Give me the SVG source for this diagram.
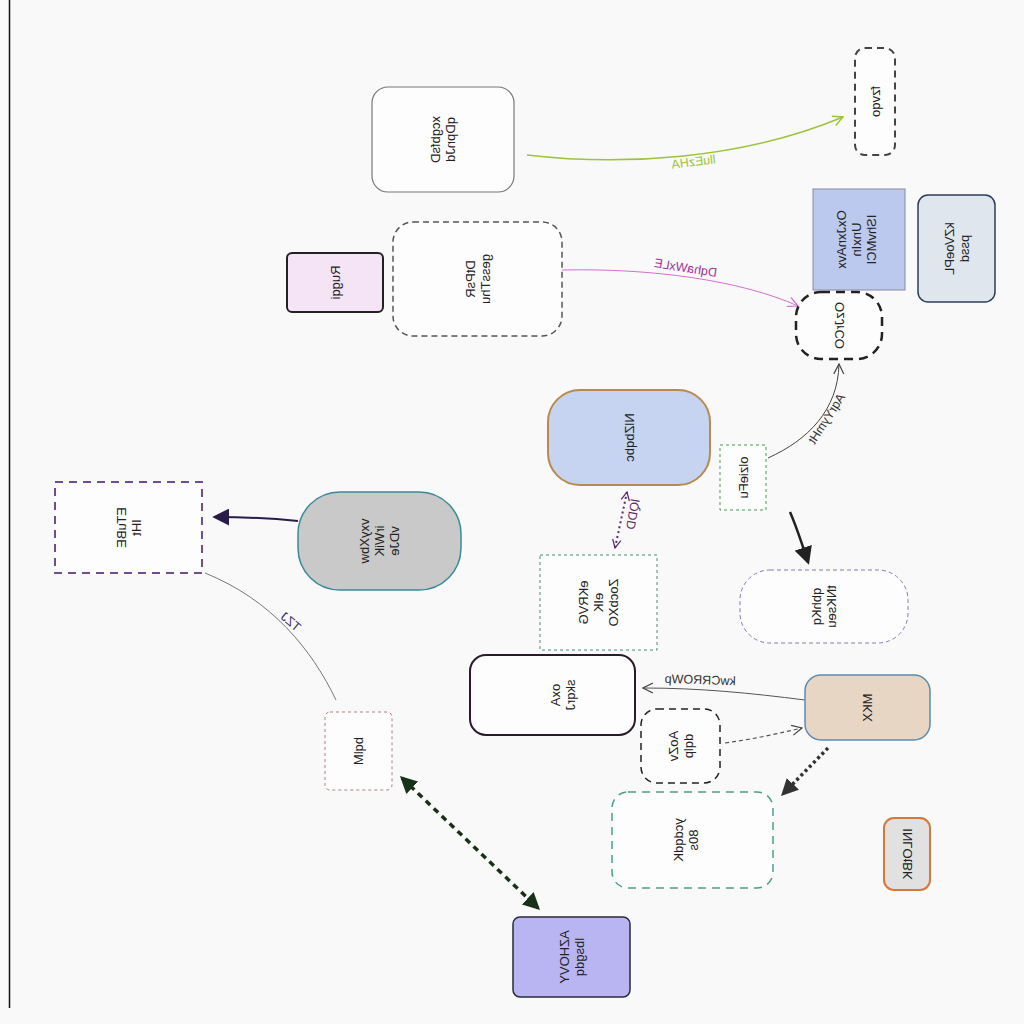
<svg xmlns="http://www.w3.org/2000/svg" width="1024" height="1024" viewBox="0 0 1024 1024">
<defs>
<style>
.nt{font-family:"Liberation Sans",Arial,sans-serif;font-size:13px;fill:#222;text-anchor:middle}
.el{font-family:"Liberation Sans",Arial,sans-serif;font-size:12.5px;text-anchor:middle}
.e{fill:none}
</style>
<marker id="oGreen" viewBox="0 0 12 12" refX="11" refY="6" markerWidth="12" markerHeight="12" markerUnits="userSpaceOnUse" orient="auto"><path d="M1,1 L11,6 L1,11" fill="none" stroke="#9cc43a" stroke-width="1.5"/></marker>
<marker id="oMag" viewBox="0 0 12 12" refX="11" refY="6" markerWidth="12" markerHeight="12" markerUnits="userSpaceOnUse" orient="auto"><path d="M1,1 L11,6 L1,11" fill="none" stroke="#d46fd0" stroke-width="1.2"/></marker>
<marker id="oGray" viewBox="0 0 12 12" refX="11" refY="6" markerWidth="12" markerHeight="12" markerUnits="userSpaceOnUse" orient="auto"><path d="M1,1 L11,6 L1,11" fill="none" stroke="#444" stroke-width="1.2"/></marker>
<marker id="oPur" viewBox="0 0 12 12" refX="11" refY="6" markerWidth="10" markerHeight="10" markerUnits="userSpaceOnUse" orient="auto-start-reverse"><path d="M1,1 L11,6 L1,11" fill="none" stroke="#5a2a6a" stroke-width="1.5"/></marker>
<marker id="fBlack" viewBox="0 0 12 12" refX="10" refY="6" markerWidth="18" markerHeight="18" markerUnits="userSpaceOnUse" orient="auto"><path d="M0,0 L12,6 L0,12 z" fill="#222"/></marker>
<marker id="fNavy" viewBox="0 0 12 12" refX="10" refY="6" markerWidth="17" markerHeight="17" markerUnits="userSpaceOnUse" orient="auto"><path d="M0,0 L12,6 L0,12 z" fill="#2b1b4b"/></marker>
<marker id="fDark" viewBox="0 0 12 12" refX="10" refY="6" markerWidth="17" markerHeight="17" markerUnits="userSpaceOnUse" orient="auto"><path d="M0,0 L12,6 L0,12 z" fill="#333"/></marker>
<marker id="fGreen" viewBox="0 0 12 12" refX="10" refY="6" markerWidth="17" markerHeight="17" markerUnits="userSpaceOnUse" orient="auto-start-reverse"><path d="M0,0 L12,6 L0,12 z" fill="#173217"/></marker>
</defs>
<rect x="0" y="0" width="1024" height="1024" fill="#f9f9f9"/>
<line x1="9.5" y1="0" x2="9.5" y2="1008" stroke="#111" stroke-width="1.5"/>

<g id="connectors">
<g id="e-a"><path class="e" d="M527,155 C620,166 740,160 843,117" stroke="#9cc43a" stroke-width="1.5" marker-end="url(#oGreen)"/>
<text class="el" fill="#9cc43a" transform="translate(694,166) rotate(-7) scale(-1,1)">lluEzHA</text></g>
<g id="e-b"><path class="e" d="M562,270 C650,268 740,280 798,306" stroke="#d46fd0" stroke-width="1" marker-end="url(#oMag)"/>
<text class="el" fill="#a0309a" transform="translate(685,272) rotate(9) scale(-1,1)">DqhaWxLE</text></g>
<g id="e-c"><path class="e" d="M768,458 C808,440 838,410 839,364" stroke="#444" stroke-width="1" marker-end="url(#oGray)"/>
<text class="el" fill="#333" transform="translate(830,421) rotate(-57) scale(-1,1)">AqrYymHt</text></g>
<g id="e-d"><path class="e" d="M790,512 C797,528 802,544 808,562" stroke="#222" stroke-width="2.5" marker-end="url(#fBlack)"/></g>
<g id="e-e"><path class="e" d="M627,492 L615,548" stroke="#5a2a6a" stroke-width="2" stroke-dasharray="2,3" marker-start="url(#oPur)" marker-end="url(#oPur)"/>
<text class="el" fill="#5a2a6a" transform="translate(637,515) rotate(-80) scale(-1,1)">lQDD</text></g>
<g id="e-f"><path class="e" d="M298,521 C270,518 250,517 215,517" stroke="#2b1b4b" stroke-width="2" marker-end="url(#fNavy)"/></g>
<g id="e-g"><path class="e" d="M336,700 C312,650 272,600 205,573" stroke="#777" stroke-width="1"/>
<text class="el" fill="#3a2a6a" transform="translate(288,625) rotate(40) scale(-1,1)">TZJ</text></g>
<g id="e-h"><path class="e" d="M805,700 C750,693 700,688 643,688" stroke="#555" stroke-width="1" marker-end="url(#oGray)"/>
<text class="el" fill="#333" transform="translate(700,684) rotate(2) scale(-1,1)">kwCRROWp</text></g>
<g id="e-i"><path class="e" d="M725,743 C760,738 780,733 802,728" stroke="#555" stroke-width="1.2" stroke-dasharray="4,3" marker-end="url(#oGray)"/></g>
<g id="e-j"><path class="e" d="M828,748 L783,794" stroke="#333" stroke-width="3.5" stroke-dasharray="3,3" marker-end="url(#fDark)"/></g>
<g id="e-k"><path class="e" d="M402,778 L538,908" stroke="#173217" stroke-width="3.5" stroke-dasharray="6,5" marker-start="url(#fGreen)" marker-end="url(#fGreen)"/></g>
</g>

<g id="n1"><rect x="372" y="87" width="142" height="105" rx="16" fill="#fdfdfd" stroke="#777" stroke-width="1.2"/>
<text class="nt" transform="translate(443,139.5) matrix(0,1,1,0,0,0)"><tspan x="0" y="-3">xcgbfsD</tspan><tspan x="0" y="12">qDpnJd</tspan></text></g>
<g id="n2"><rect x="855" y="48" width="40" height="107" rx="10" fill="#fdfdfd" stroke="#444" stroke-width="2" stroke-dasharray="7,5"/>
<text class="nt" transform="translate(875,101.5) matrix(0,1,1,0,0,0)"><tspan x="0" y="4.5">fzvqo</tspan></text></g>
<g id="n3"><rect x="813" y="189" width="92" height="101" fill="#bcc9ef" stroke="#8a8aa0" stroke-width="1"/>
<text class="nt" transform="translate(856,239.5) matrix(0,1,1,0,0,0)"><tspan x="0" y="-10.5">OxJxnAvx</tspan><tspan x="0" y="4.5">UnxIn</tspan><tspan x="0" y="19.5">IShvMCI</tspan></text></g>
<g id="n4"><rect x="918" y="195" width="77" height="107" rx="10" fill="#dfe6ee" stroke="#2c3e5a" stroke-width="1.5"/>
<text class="nt" transform="translate(956.5,248.5) matrix(0,1,1,0,0,0)"><tspan x="0" y="-3">kZVoePL</tspan><tspan x="0" y="12">pssd</tspan></text></g>
<g id="n5"><rect x="393" y="222" width="169" height="114" rx="20" fill="#fdfdfd" stroke="#555" stroke-width="1.5" stroke-dasharray="6,4"/>
<text class="nt" transform="translate(477.5,279) matrix(0,1,1,0,0,0)"><tspan x="0" y="-3">DtPsR</tspan><tspan x="0" y="12">gessThu</tspan></text></g>
<g id="n6"><rect x="287" y="253" width="96" height="59" rx="5" fill="#f4e4f6" stroke="#222" stroke-width="2"/>
<text class="nt" transform="translate(335,282.5) matrix(0,1,1,0,0,0)"><tspan x="0" y="4.5">Rugqi</tspan></text></g>
<g id="n7"><rect x="796" y="292" width="86" height="67" rx="25" fill="#fdfdfd" stroke="#222" stroke-width="2.5" stroke-dasharray="9,6"/>
<text class="nt" transform="translate(839,325.5) matrix(0,1,1,0,0,0)"><tspan x="0" y="4.5">OzJrCO</tspan></text></g>
<g id="n8"><rect x="548" y="390" width="162" height="95" rx="32" fill="#c6d4f1" stroke="#b98a4e" stroke-width="2"/>
<text class="nt" transform="translate(629,437.5) matrix(0,1,1,0,0,0)"><tspan x="0" y="4.5">NlZbqbc</tspan></text></g>
<g id="n9"><rect x="720" y="445" width="46" height="65" fill="#fdfdfd" stroke="#4a9a5a" stroke-width="1" stroke-dasharray="3,3"/>
<text class="nt" transform="translate(743,477.5) matrix(0,1,1,0,0,0)"><tspan x="0" y="4.5">olzieFu</tspan></text></g>
<g id="n10"><rect x="55" y="482" width="147" height="91" fill="#fdfdfd" stroke="#6b4f8f" stroke-width="2" stroke-dasharray="8,6"/>
<text class="nt" transform="translate(128.5,527.5) matrix(0,1,1,0,0,0)"><tspan x="0" y="-3">ETuBE</tspan><tspan x="0" y="12">IHt</tspan></text></g>
<g id="n11"><rect x="298" y="492" width="163" height="98" rx="42" fill="#c9c9c9" stroke="#3b8a98" stroke-width="1.5"/>
<text class="nt" transform="translate(379.5,541) matrix(0,1,1,0,0,0)"><tspan x="0" y="-10.5">vxyXbw</tspan><tspan x="0" y="4.5">irWiK</tspan><tspan x="0" y="19.5">vDJe</tspan></text></g>
<g id="n12"><rect x="540" y="555" width="117" height="95" fill="#fdfdfd" stroke="#4a8a7a" stroke-width="1" stroke-dasharray="3,3"/>
<text class="nt" transform="translate(598.5,602.5) matrix(0,1,1,0,0,0)"><tspan x="0" y="-10.5">eKRVG</tspan><tspan x="0" y="4.5">eIK</tspan><tspan x="0" y="19.5">ZocbXO</tspan></text></g>
<g id="n13"><rect x="740" y="570" width="168" height="73" rx="30" fill="#fdfdfd" stroke="#8a7ab0" stroke-width="1" stroke-dasharray="4,3"/>
<text class="nt" transform="translate(824,606.5) matrix(0,1,1,0,0,0)"><tspan x="0" y="-3">qbhKq</tspan><tspan x="0" y="12">tNKseu</tspan></text></g>
<g id="n14"><rect x="470" y="655" width="165" height="80" rx="16" fill="#fdfdfd" stroke="#2a1a2a" stroke-width="2"/>
<text class="nt" transform="translate(563,695) matrix(0,1,1,0,0,0)"><tspan x="0" y="-3">oxA</tspan><tspan x="0" y="12">skqrJ</tspan></text></g>
<g id="n15"><rect x="805" y="675" width="125" height="65" rx="16" fill="#e7d6c4" stroke="#5c8ab5" stroke-width="1.5"/>
<text class="nt" transform="translate(867.5,707.5) matrix(0,1,1,0,0,0)"><tspan x="0" y="4.5">MKX</tspan></text></g>
<g id="n16"><rect x="641" y="709" width="79" height="74" rx="16" fill="#fdfdfd" stroke="#222" stroke-width="1.5" stroke-dasharray="7,5"/>
<text class="nt" transform="translate(680.5,746) matrix(0,1,1,0,0,0)"><tspan x="0" y="-3">AoZv</tspan><tspan x="0" y="12">dqlp</tspan></text></g>
<g id="n17"><rect x="612" y="792" width="161" height="96" rx="16" fill="#fdfdfd" stroke="#4aa08e" stroke-width="1.5" stroke-dasharray="8,6"/>
<text class="nt" transform="translate(686,840) matrix(0,1,1,0,0,0)"><tspan x="0" y="-3">ycdqdK</tspan><tspan x="0" y="12">80s</tspan></text></g>
<g id="n18"><rect x="884" y="818" width="46" height="72" rx="10" fill="#e1e1e1" stroke="#d8773a" stroke-width="2"/>
<text class="nt" transform="translate(907,854) matrix(0,1,1,0,0,0)"><tspan x="0" y="4.5">INLOtBK</tspan></text></g>
<g id="n19"><rect x="325" y="712" width="67" height="78" rx="5" fill="#fdfdfd" stroke="#b08080" stroke-width="1" stroke-dasharray="3,3"/>
<text class="nt" transform="translate(358.5,751) matrix(0,1,1,0,0,0)"><tspan x="0" y="4.5">bqlM</tspan></text></g>
<g id="n20"><rect x="513" y="917" width="117" height="80" rx="7" fill="#b9b5f2" stroke="#2a2a3a" stroke-width="1.5"/>
<text class="nt" transform="translate(571.5,957) matrix(0,1,1,0,0,0)"><tspan x="0" y="-3">AZHOVY</tspan><tspan x="0" y="12">lbsgdq</tspan></text></g>
</svg>
